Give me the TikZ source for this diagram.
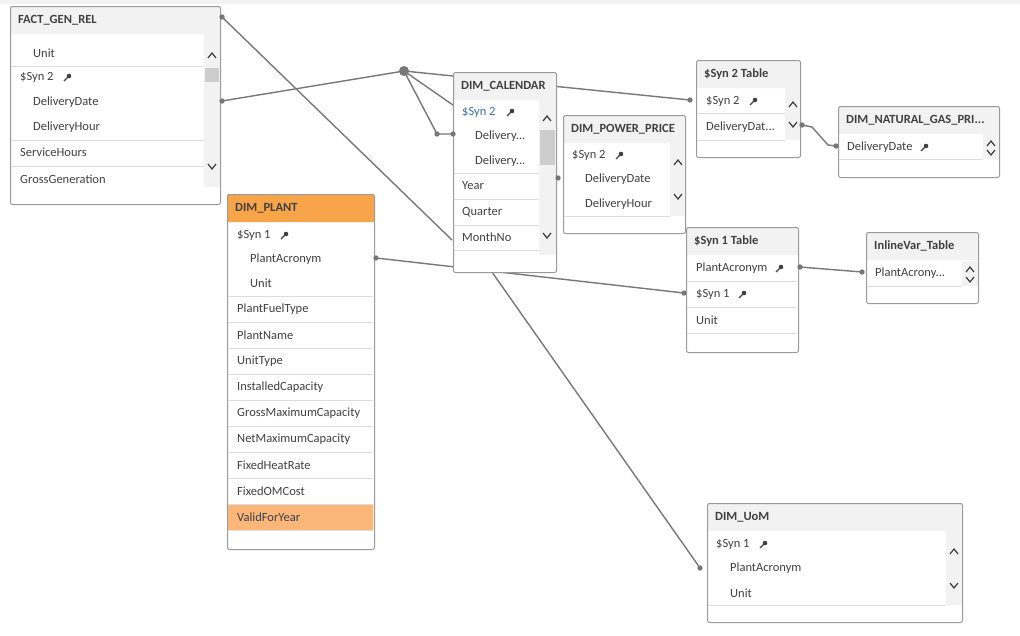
\documentclass[tikz,border=0pt]{standalone}
\usepackage{fontspec}
\setmainfont{Carlito}
\definecolor{hdrgray}{HTML}{F2F2F2}
\definecolor{hdrorange}{HTML}{F8A54A}
\definecolor{roworange}{HTML}{FBB67A}
\definecolor{lnk}{HTML}{777777}
\definecolor{edge}{HTML}{9A9A9A}
\definecolor{sepc}{HTML}{DDDDDD}
\definecolor{thumb}{HTML}{CDCDCD}
\definecolor{txt}{HTML}{404040}
\definecolor{keyblue}{HTML}{3A6FB0}
\tikzset{
  link/.style={lnk,line width=1.4pt},
  dot/.style={fill=lnk},
  field/.style={anchor=west,inner sep=0pt,text=txt,font=\fontsize{12.5}{14}\selectfont},
  title/.style={anchor=west,inner sep=0pt,text=txt,font=\fontsize{12.5}{14}\selectfont\bfseries},
  tbl/.style={draw=edge,line width=1pt,rounded corners=2pt,anchor=north west,inner sep=0pt},
}
% table frame: id, x1, y1, x2, y2, header colour, title
\newcommand\tbl[7]{%
  \fill[white,rounded corners=2pt] (#2,#3) rectangle (#4,#5);
  \fill[#6,rounded corners=2pt] (#2,#3) rectangle (#4,#3+28);
  \fill[#6] (#2,#3+20) rectangle (#4,#3+28);
  \pgfmathsetmacro\tw{#4-#2}\pgfmathsetmacro\th{#5-#3}
  \node[tbl,minimum width=\tw pt,minimum height=\th pt] (#1) at (#2,#3) {};
  \node[title] (#1-t) at (#2+8,#3+14) {#7};}
\newcommand\sep[3]{\draw[sepc,line width=1pt] (#1,#3) -- (#2,#3);}
% scroll bar: x1, x2, y1, y2, up-arrow y, down-arrow y
\newcommand\scroll[6]{%
  \fill[hdrgray] (#1,#3) rectangle (#2,#4);
  \draw[txt,line width=1.2pt] (#1+4,#5+3) -- (#1+8,#5-2) -- (#1+12,#5+3);
  \draw[txt,line width=1.2pt] (#1+4,#6-3) -- (#1+8,#6+2) -- (#1+12,#6-3);}
\newcommand\keyicon[2]{%
  \draw[txt,line width=1.1pt] (#1,#2+4) -- (#1+4,#2);
  \fill[txt] (#1+5,#2-1) circle (2.3pt);}
\begin{document}
\begin{tikzpicture}[x=1pt,y=-1pt]
\useasboundingbox (0,0) rectangle (1020,635);
\fill[hdrgray] (0,0) rectangle (1020,4);
% link end points
\coordinate (hub) at (404,71);
\coordinate (e-f1) at (222,17);
\coordinate (e-f2) at (222,101);
\coordinate (e-c1) at (452,240);
\coordinate (e-c2) at (437,134);
\coordinate (e-c3) at (453,134);
\coordinate (e-pp) at (558,178);
\coordinate (e-s2a) at (690,100);
\coordinate (e-s2b) at (802,125);
\coordinate (e-ng) at (836,146);
\coordinate (e-pa) at (376,258);
\coordinate (e-s1b) at (684,293);
\coordinate (e-s1a) at (800,267);
\coordinate (e-iv) at (862,272);
\coordinate (e-cb) at (480,255);
\coordinate (e-uom) at (700,568);
% links (under tables)
\draw[link] (e-f1) -- (e-c1);
\draw[link] (e-f2) -- (hub);
\draw[link] (hub) -- (e-s2a);
\draw[link] (hub) -- (e-pp);
\draw[link] (hub) -- (e-c2) -- (e-c3);
\draw[link] (e-s2b) -- (812,127) -- (828,145) -- (e-ng);
\draw[link] (e-pa) -- (e-s1b);
\draw[link] (e-s1a) -- (e-iv);
\draw[link] (e-cb) -- (e-uom);
% FACT_GEN_REL
\tbl{fact}{10}{6}{220}{204}{hdrgray}{FACT\_GEN\_REL}
\scroll{204}{220}{34}{187}{55}{167}
\fill[thumb] (205,68) rectangle (219,82);
\node[field] (fact-1) at (33,53) {Unit};
\sep{11}{204}{66}
\node[field] (fact-2) at (20,77) {\$Syn 2};\keyicon{64}{77}
\node[field] (fact-3) at (33,102) {DeliveryDate};
\node[field] (fact-4) at (33,127) {DeliveryHour};
\sep{11}{204}{140}
\node[field] (fact-5) at (20,152) {ServiceHours};
\sep{11}{204}{166}
\node[field] (fact-6) at (20,179) {GrossGeneration};
% DIM_PLANT
\tbl{plant}{227}{194}{374}{549}{hdrorange}{DIM\_PLANT}
\fill[roworange] (228,504) rectangle (373,530);
\node[field] (plant-1) at (237,235) {\$Syn 1};\keyicon{281}{235}
\node[field] (plant-2) at (250,259) {PlantAcronym};
\node[field] (plant-3) at (250,283) {Unit};
\foreach \yy/\nm [count=\i from 4] in {309/PlantFuelType,335/PlantName,361/UnitType,387/InstalledCapacity,413/GrossMaximumCapacity,439/NetMaximumCapacity,465/FixedHeatRate,491/FixedOMCost,517/ValidForYear}{
  \sep{228}{373}{\yy-13}
  \node[field] (plant-\i) at (237,\yy) {\nm};}
\sep{228}{373}{530}
% DIM_CALENDAR
\tbl{cal}{453}{72}{556}{272}{hdrgray}{DIM\_CALENDAR}
\scroll{539}{556}{99}{255}{118}{236}
\fill[thumb] (540,130) rectangle (555,165);
\node[field,text=keyblue] (cal-1) at (462,112) {\$Syn 2};\keyicon{507}{112}
\node[field] (cal-2) at (475,136) {Delivery...};
\node[field] (cal-3) at (475,161) {Delivery...};
\sep{454}{539}{173}
\node[field] (cal-4) at (462,186) {Year};
\sep{454}{539}{199}
\node[field] (cal-5) at (462,212) {Quarter};
\sep{454}{539}{225}
\node[field] (cal-6) at (462,237) {MonthNo};
\sep{454}{539}{250}
% DIM_POWER_PRICE
\tbl{pp}{563}{115}{685}{233}{hdrgray}{DIM\_POWER\_PRICE}
\scroll{670}{685}{143}{216}{162}{197}
\node[field] (pp-1) at (572,155) {\$Syn 2};\keyicon{616}{155}
\node[field] (pp-2) at (585,179) {DeliveryDate};
\node[field] (pp-3) at (585,204) {DeliveryHour};
\sep{564}{670}{216}
% $Syn 2 Table
\tbl{syn2}{696}{60}{800}{157}{hdrgray}{\$Syn 2 Table}
\scroll{785}{800}{88}{140}{104}{125}
\node[field] (syn2-1) at (706,101) {\$Syn 2};\keyicon{750}{101}
\sep{697}{785}{113}
\node[field] (syn2-2) at (706,127) {DeliveryDat...};
\sep{697}{785}{140}
% DIM_NATURAL_GAS_PRI...
\tbl{ng}{838}{106}{999}{177}{hdrgray}{DIM\_NATURAL\_GAS\_PRI...}
\scroll{983}{999}{134}{159}{143}{153}
\node[field] (ng-1) at (847,147) {DeliveryDate};\keyicon{921}{147}
\sep{839}{983}{159}
% $Syn 1 Table
\tbl{syn1}{686}{227}{798}{352}{hdrgray}{\$Syn 1 Table}
\node[field] (syn1-1) at (696,268) {PlantAcronym};\keyicon{776}{268}
\sep{687}{797}{281}
\node[field] (syn1-2) at (696,294) {\$Syn 1};\keyicon{739}{294}
\sep{687}{797}{307}
\node[field] (syn1-3) at (696,320) {Unit};
\sep{687}{797}{333}
% InlineVar_Table
\tbl{iv}{866}{232}{978}{303}{hdrgray}{InlineVar\_Table}
\scroll{962}{978}{261}{286}{269}{280}
\node[field] (iv-1) at (875,273) {PlantAcrony...};
\sep{867}{962}{286}
% DIM_UoM
\tbl{uom}{707}{503}{962}{622}{hdrgray}{DIM\_UoM}
\scroll{946}{962}{531}{605}{551}{586}
\node[field] (uom-1) at (716,544) {\$Syn 1};\keyicon{760}{544}
\node[field] (uom-2) at (730,568) {PlantAcronym};
\node[field] (uom-3) at (730,593) {Unit};
\sep{708}{946}{605}
% dots
\fill[dot] (hub) circle (5pt);
\foreach \p in {f1,f2,c2,c3,pp,s2a,s2b,ng,pa,s1b,s1a,iv,uom}
  \fill[dot] (e-\p) circle (2.7pt);
\end{tikzpicture}
\end{document}
